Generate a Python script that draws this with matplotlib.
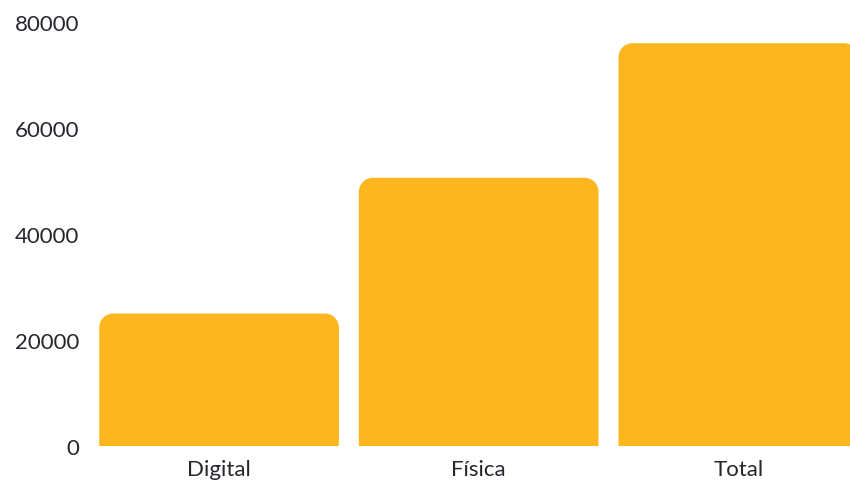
import matplotlib
matplotlib.use("Agg")
import matplotlib.pyplot as plt
from matplotlib.path import Path
from matplotlib.patches import PathPatch

categories = ["Digital", "Física", "Total"]
values = [25000, 50600, 76000]
yticks = [0, 20000, 40000, 60000, 80000]

plt.rcParams['font.family'] = ['Lato', 'DejaVu Sans']

fig = plt.figure(figsize=(8.5, 4.81), dpi=100)
W, H = 850, 481
left_px, right_px, top_px, bottom_px = 90, 850, 23, 447
ax = fig.add_axes([left_px / W, 1 - bottom_px / H, (right_px - left_px) / W, (bottom_px - top_px) / H])

color = "#FDB61E"
bar_w = 0.923
bars = ax.bar(range(len(categories)), values, width=bar_w, color=color, alpha=0)

ax.set_xlim(-0.497, 2.43)
ax.set_ylim(0, 80000)

# convert corner radius from pixels into data units
r_px = 14
spacing_px = 259.5
rx = r_px / spacing_px
ry = r_px / ((bottom_px - top_px) / 80000)
k = 0.5523
for b in bars:
    x0 = b.get_x(); x1 = x0 + b.get_width(); h = b.get_height()
    verts = [
        (x0, 0), (x0, h - ry),
        (x0, h - ry + k * ry), (x0 + rx - k * rx, h), (x0 + rx, h),
        (x1 - rx, h),
        (x1 - rx + k * rx, h), (x1, h - ry + k * ry), (x1, h - ry),
        (x1, 0), (x0, 0),
    ]
    codes = [Path.MOVETO, Path.LINETO,
             Path.CURVE4, Path.CURVE4, Path.CURVE4,
             Path.LINETO,
             Path.CURVE4, Path.CURVE4, Path.CURVE4,
             Path.LINETO, Path.CLOSEPOLY]
    ax.add_patch(PathPatch(Path(verts, codes), facecolor=color, edgecolor="none"))

ax.set_xticks(range(len(categories)))
ax.set_xticklabels(categories)
ax.set_yticks(yticks)
ax.set_yticklabels([str(v) for v in yticks])
for s in ax.spines.values():
    s.set_visible(False)
ax.tick_params(axis='both', length=0, labelsize=16, colors="#26262e")
ax.tick_params(axis='y', pad=8)
ax.tick_params(axis='x', pad=9.5)

fig.savefig("out.png", dpi=100)
